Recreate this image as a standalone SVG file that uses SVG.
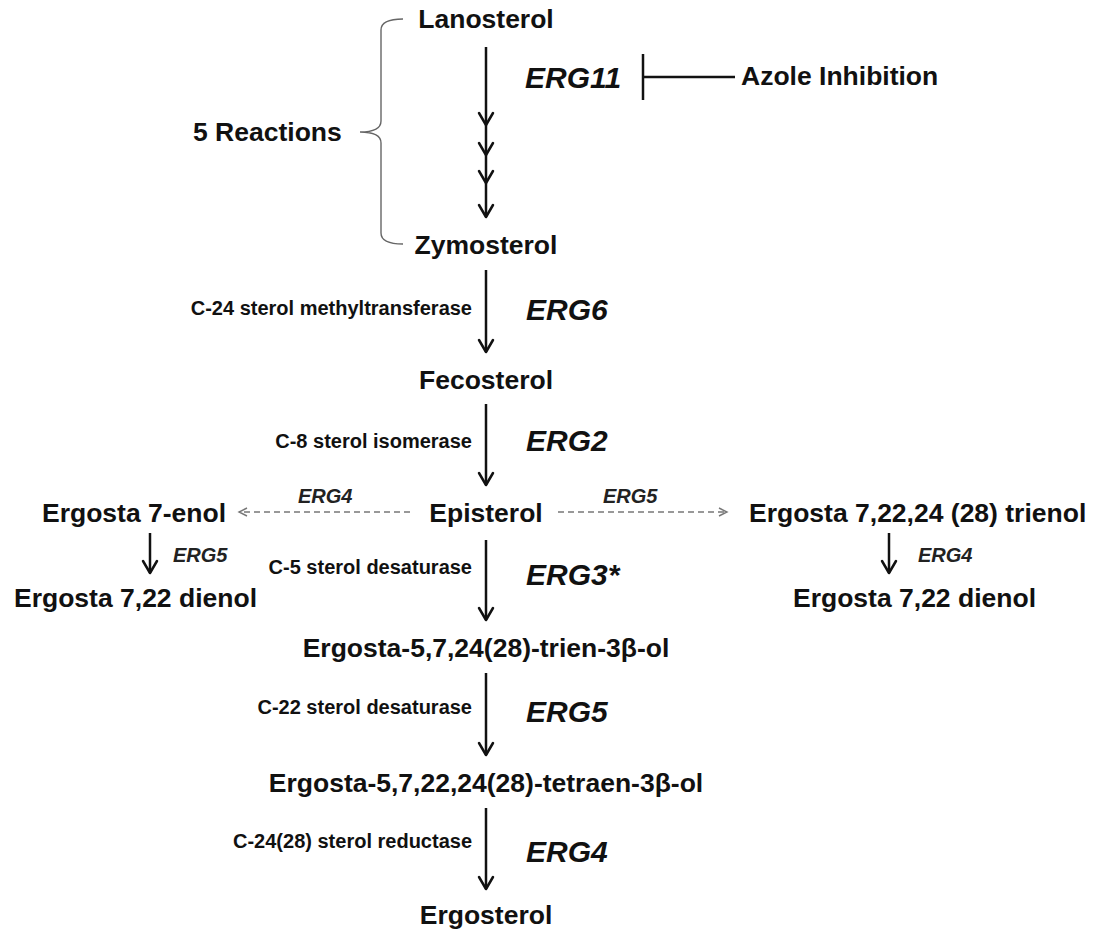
<svg xmlns="http://www.w3.org/2000/svg" width="1097" height="933" viewBox="0 0 1097 933">
<defs>
<style>
.m{font-family:"Liberation Sans",Arial,sans-serif;font-weight:bold;font-size:26.5px;fill:#111}
.mc{text-anchor:middle}
.enz{font-family:"Liberation Sans",Arial,sans-serif;font-weight:bold;font-size:20px;fill:#111;text-anchor:end}
.erg{font-family:"Liberation Sans",Arial,sans-serif;font-weight:bold;font-style:italic;font-size:30px;fill:#111}
.ergs{font-family:"Liberation Sans",Arial,sans-serif;font-weight:bold;font-style:italic;font-size:20px;fill:#222}
.arr{fill:none;stroke:#111;stroke-width:2.5}
.dash{fill:none;stroke:#777;stroke-width:1.4;stroke-dasharray:6 4}
</style>
<marker id="ah" markerUnits="userSpaceOnUse" markerWidth="30" markerHeight="30" viewBox="-15 -15 30 30" refX="0" refY="0" orient="auto" overflow="visible">
<path d="M-12,-7 L0,0 L-12,7" fill="none" stroke="#111" stroke-width="2.5" stroke-linecap="round" stroke-linejoin="round"/>
</marker>
<marker id="ahd" markerUnits="userSpaceOnUse" markerWidth="20" markerHeight="20" viewBox="-10 -10 20 20" refX="0" refY="0" orient="auto" overflow="visible">
<path d="M-8,-4 L0,0 L-8,4" fill="none" stroke="#777" stroke-width="1.4"/>
</marker>
</defs>
<rect width="1097" height="933" fill="#fff"/>

<g id="connectors">
<polyline class="arr" points="486,47 486,125 486,155 486,183 486,217" marker-mid="url(#ah)" marker-end="url(#ah)"/>
<line class="arr" x1="486" y1="270" x2="486" y2="352" marker-end="url(#ah)"/>
<line class="arr" x1="486" y1="404" x2="486" y2="485" marker-end="url(#ah)"/>
<line class="arr" x1="486" y1="540" x2="486" y2="620" marker-end="url(#ah)"/>
<line class="arr" x1="486" y1="673" x2="486" y2="755" marker-end="url(#ah)"/>
<line class="arr" x1="486" y1="808" x2="486" y2="889" marker-end="url(#ah)"/>
<line class="arr" x1="150" y1="533" x2="150" y2="573" marker-end="url(#ah)"/>
<line class="arr" x1="889" y1="533" x2="889" y2="573" marker-end="url(#ah)"/>
<line class="dash" x1="410" y1="512" x2="239" y2="512" marker-end="url(#ahd)"/>
<line class="dash" x1="558" y1="512" x2="727" y2="512" marker-end="url(#ahd)"/>
<g id="inhibition">
<line class="arr" x1="643" y1="54" x2="643" y2="100"/>
<line class="arr" x1="643" y1="77" x2="735" y2="77"/>
</g>
<path id="brace" d="M403,19 Q381,19 381,30 L381,121 Q381,132 360,132 Q381,132 381,143 L381,233 Q381,244 403,244" fill="none" stroke="#666" stroke-width="1.4"/>
</g>

<g id="lanosterol"><text class="m mc" x="486" y="28">Lanosterol</text></g>
<g id="reactions"><text class="m" x="193" y="141">5 Reactions</text></g>
<g id="erg11"><text class="erg" x="525" y="88">ERG11</text></g>
<g id="azole"><text class="m" x="741" y="85">Azole Inhibition</text></g>
<g id="zymosterol"><text class="m mc" x="486" y="254">Zymosterol</text></g>
<g id="erg6"><text class="enz" x="472" y="315">C-24 sterol methyltransferase</text><text class="erg" x="526" y="320">ERG6</text></g>
<g id="fecosterol"><text class="m mc" x="486" y="389">Fecosterol</text></g>
<g id="erg2"><text class="enz" x="472" y="448">C-8 sterol isomerase</text><text class="erg" x="526" y="451">ERG2</text></g>
<g id="episterol"><text class="m mc" x="486" y="522">Episterol</text></g>
<g id="ergosta7enol"><text class="m" x="42" y="522">Ergosta 7-enol</text></g>
<g id="erg4-dashed"><text class="ergs" x="298" y="503">ERG4</text></g>
<g id="erg5-dashed"><text class="ergs" x="603" y="503">ERG5</text></g>
<g id="trienol"><text class="m" x="749" y="522">Ergosta 7,22,24 (28) trienol</text></g>
<g id="erg5-left"><text class="ergs" x="173" y="562">ERG5</text></g>
<g id="dienol-left"><text class="m" x="14" y="607">Ergosta 7,22 dienol</text></g>
<g id="erg4-right"><text class="ergs" x="918" y="562">ERG4</text></g>
<g id="dienol-right"><text class="m" x="793" y="607">Ergosta 7,22 dienol</text></g>
<g id="erg3"><text class="enz" x="472" y="574">C-5 sterol desaturase</text><text class="erg" x="526" y="585">ERG3*</text></g>
<g id="trien"><text class="m mc" x="486" y="657">Ergosta-5,7,24(28)-trien-3β-ol</text></g>
<g id="erg5"><text class="enz" x="472" y="714">C-22 sterol desaturase</text><text class="erg" x="526" y="722">ERG5</text></g>
<g id="tetraen"><text class="m mc" x="486" y="792">Ergosta-5,7,22,24(28)-tetraen-3β-ol</text></g>
<g id="erg4"><text class="enz" x="472" y="848">C-24(28) sterol reductase</text><text class="erg" x="526" y="862">ERG4</text></g>
<g id="ergosterol"><text class="m mc" x="486" y="924">Ergosterol</text></g>
</svg>
